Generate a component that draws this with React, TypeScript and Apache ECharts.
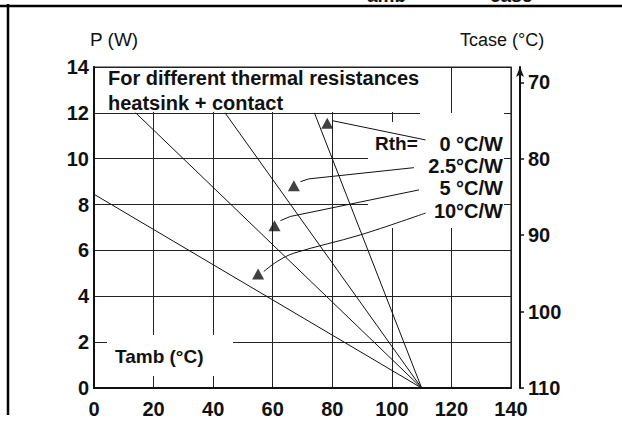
import React, { useEffect, useRef } from "react";
import * as echarts from "echarts";

// Tamb axis ticks and Tcase tick labels
const xTicks = [0, 20, 40, 60, 80, 100, 120, 140];
const tcaseTicks = [70, 80, 90, 100, 110];

// derating lines (Tamb °C, P W) for different Rth heatsink + contact
const rth0 = [[74, 12], [110, 0]];
const rth25 = [[44, 12], [110, 0]];
const rth5 = [[14, 12], [110, 0]];
const rth10 = [[0, 8.45], [110, 0]];

// triangle markers and leader lines
const markers = [[78.3, 11.55], [67.1, 8.82], [60.6, 7.08], [55.1, 4.97]];
const lead0 = [[80.0, 11.66], [111.3, 10.82]];
const lead25 = [[69.3, 9.0], [72.1, 9.12], [107.4, 9.61]];
const lead5 = [[62.6, 7.3], [65.9, 7.48], [109.1, 8.64]];
const lead10 = [[57.0, 5.08], [61.5, 5.52], [67.1, 5.88], [89.5, 6.68], [111.3, 7.63]];

const rthLabels = ["0 °C/W", "2.5°C/W", "5 °C/W", "10°C/W"];

const FONT = "'Liberation Sans', Arial, sans-serif";

export default function App() {
  const ref = useRef<HTMLDivElement>(null);
  useEffect(() => {
    if (!ref.current) return;
    const chart = echarts.init(ref.current, null, { renderer: "svg" });
    const lineSeries = (data: number[][], smooth: any = false, z = 3) => ({
      type: "line",
      data,
      showSymbol: false,
      symbol: "none",
      smooth,
      z,
      lineStyle: { color: "#111", width: 1 },
      silent: true,
    });
    const txt = (text: string, x: number, y: number, size: number, weight: string, align = "left") => ({
      type: "text",
      x,
      y,
      z: 10,
      style: {
        text,
        fill: "#111",
        font: `${weight} ${size}px ${FONT}`,
        align,
        verticalAlign: "middle",
      },
    });
    const rtYs = [143.7, 166, 187.7, 210.5];
    chart.setOption({
      animation: false,
      backgroundColor: "#fff",
      grid: {
        left: 94,
        top: 67,
        right: 111,
        bottom: 37,
        show: true,
        borderColor: "#222",
        borderWidth: 1.2,
        backgroundColor: "transparent",
      },
      xAxis: {
        type: "value",
        min: 0,
        max: 140,
        interval: 20,
        axisLine: { show: true, onZero: false, lineStyle: { color: "#111", width: 2 } },
        axisTick: { show: false },
        axisLabel: {
          margin: 11,
          fontSize: 20,
          fontWeight: "bold",
          fontFamily: FONT,
          color: "#111",
          formatter: (v: number) => (xTicks.includes(v) ? String(v) : ""),
        },
        splitLine: { show: true, lineStyle: { color: "#222", width: 1 } },
      },
      yAxis: [
        {
          type: "value",
          min: 0,
          max: 14,
          interval: 2,
          axisLine: { show: true, onZero: false, lineStyle: { color: "#111", width: 2 } },
          axisTick: { show: false },
          axisLabel: {
            margin: 5,
            fontSize: 20,
            fontWeight: "bold",
            fontFamily: FONT,
            color: "#111",
          },
          splitLine: { show: true, lineStyle: { color: "#222", width: 1 } },
        },
        {
          type: "value",
          position: "right",
          offset: 9,
          inverse: true,
          min: 68,
          max: 110,
          axisLine: {
            show: true,
            onZero: false,
            symbol: ["none", "arrow"],
            symbolSize: [6, 10],
            lineStyle: { color: "#111", width: 2 },
          },
          axisTick: {
            show: true,
            length: 4,
            inside: false,
            customValues: tcaseTicks,
            lineStyle: { color: "#111", width: 1.5 },
          },
          axisLabel: {
            margin: 8,
            fontSize: 20,
            fontWeight: "bold",
            fontFamily: FONT,
            color: "#111",
            customValues: tcaseTicks,
          },
          splitLine: { show: false },
        },
      ],
      series: [
        lineSeries(rth0),
        lineSeries(rth25),
        lineSeries(rth5),
        lineSeries(rth10),
        lineSeries(lead0, false, 4),
        lineSeries(lead25, false, 4),
        lineSeries(lead5, false, 4),
        lineSeries(lead10, 0.35, 4),
        {
          type: "scatter",
          data: markers,
          symbol: "triangle",
          symbolSize: [12, 11],
          itemStyle: { color: "#111" },
          z: 5,
          silent: true,
        },
      ],
      graphic: [
        // white masks behind annotation texts
        { type: "rect", z: 1, shape: { x: 107, y: 68, width: 333, height: 44 }, style: { fill: "#fff" } },
        { type: "rect", z: 1, shape: { x: 368, y: 122, width: 136, height: 106 }, style: { fill: "#fff" } },
        { type: "rect", z: 1, shape: { x: 420, y: 113, width: 84, height: 10 }, style: { fill: "#fff" } },
        { type: "rect", z: 1, shape: { x: 107, y: 335, width: 126, height: 41 }, style: { fill: "#fff" } },
        // page frame
        { type: "line", z: 10, shape: { x1: 0, y1: 6, x2: 622, y2: 6 }, style: { stroke: "#000", lineWidth: 2.5 } },
        { type: "line", z: 10, shape: { x1: 8, y1: 4, x2: 8, y2: 415 }, style: { stroke: "#000", lineWidth: 2.5 } },
        txt("amb", 367, -5, 19, "bold"),
        txt("case", 490, -5, 19, "bold"),
        // titles
        txt("P (W)", 90, 39.7, 19, "normal"),
        txt("Tcase (°C)", 460, 39.7, 18, "normal"),
        txt("For different thermal resistances", 108, 77.7, 20, "bold"),
        txt("heatsink + contact", 108, 103, 20, "bold"),
        txt("Tamb (°C)", 115, 356, 19, "bold"),
        txt("Rth=", 375, 143.7, 19, "bold"),
        ...rthLabels.map((l, i) => txt(l, 503, rtYs[i], 20, "bold", "right")),
      ],
    });
    return () => chart.dispose();
  }, []);
  return (
    <div
      ref={ref}
      style={{ position: "fixed", left: 0, top: 0, width: 622, height: 425, background: "#fff" }}
    />
  );
}
